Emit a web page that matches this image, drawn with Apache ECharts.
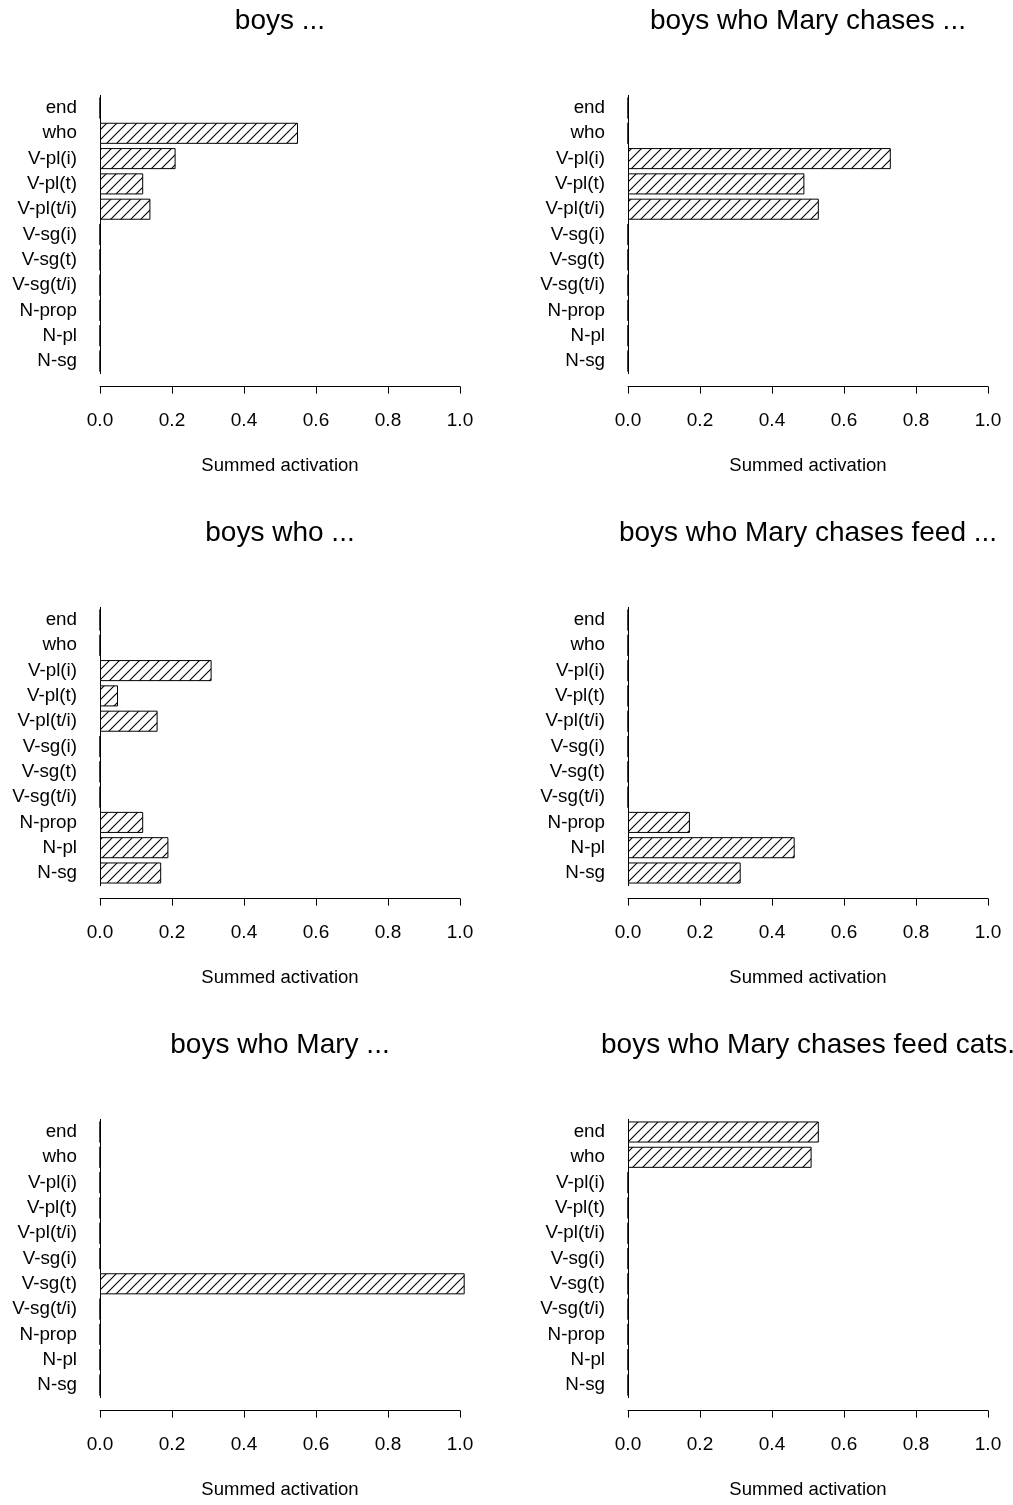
<!DOCTYPE html>
<html>
<head>
<meta charset="utf-8">
<script src="https://cdn.jsdelivr.net/npm/echarts@6/dist/echarts.min.js"></script>
<style>
html,body{margin:0;padding:0;background:#fff;}
#chart{width:1013px;height:1505px;}
</style>
</head>
<body>
<div id="chart"></div>
<script>
// Categories, bottom to top
var categories = ['N-sg','N-pl','N-prop','V-sg(t/i)','V-sg(t)','V-sg(i)','V-pl(t/i)','V-pl(t)','V-pl(i)','who','end'];
var xTicks = [0.0, 0.2, 0.4, 0.6, 0.8, 1.0];

var titleBoys = 'boys ...';
var titleBoysWho = 'boys who ...';
var titleBoysWhoMary = 'boys who Mary ...';
var titleChases = 'boys who Mary chases ...';
var titleFeed = 'boys who Mary chases feed ...';
var titleCats = 'boys who Mary chases feed cats.';

var valsBoys         = [0, 0, 0, 0, 0, 0, 0.14, 0.12, 0.21, 0.55, 0];
var valsBoysWho      = [0.17, 0.19, 0.12, 0, 0, 0, 0.16, 0.05, 0.31, 0, 0];
var valsBoysWhoMary  = [0, 0, 0, 0, 1.013, 0, 0, 0, 0, 0, 0];
var valsChases       = [0, 0, 0, 0, 0, 0, 0.53, 0.49, 0.73, 0, 0];
var valsFeed         = [0.313, 0.463, 0.172, 0, 0, 0, 0, 0, 0, 0, 0];
var valsCats         = [0, 0, 0, 0, 0, 0, 0, 0, 0, 0.51, 0.53];

var xAxisName = 'Summed activation';

// panels: [title, values, col, row]
var panels = [
  [titleBoys, valsBoys, 0, 0],
  [titleChases, valsChases, 1, 0],
  [titleBoysWho, valsBoysWho, 0, 1],
  [titleFeed, valsFeed, 1, 1],
  [titleBoysWhoMary, valsBoysWhoMary, 0, 2],
  [titleCats, valsCats, 1, 2]
];

// hatch pattern
var hs = 10;
var cv = document.createElement('canvas');
cv.width = hs; cv.height = hs;
var ctx = cv.getContext('2d');
ctx.fillStyle = '#fff';
ctx.fillRect(0,0,hs,hs);
ctx.strokeStyle = '#000';
ctx.lineWidth = 1.1;
ctx.beginPath();
ctx.moveTo(0, hs); ctx.lineTo(hs, 0);
ctx.moveTo(-2, 2); ctx.lineTo(2, -2);
ctx.moveTo(hs-2, hs+2); ctx.lineTo(hs+2, hs-2);
ctx.stroke();

var FONT = 'Liberation Sans, Arial, Helvetica, sans-serif';
var colLeft = [100, 628];
var rowTop = [95.35, 607.35, 1119.35];
var gridW = 360, gridH = 278.3;

var grids = [], xAxes = [], yAxes = [], series = [], titles = [];
panels.forEach(function(p, i){
  var L = colLeft[p[2]], T = rowTop[p[3]];
  grids.push({left: L, top: T, width: gridW, height: gridH, containLabel: false});
  titles.push({
    text: p[0], left: L + gridW/2, top: T - 88, textAlign: 'center', padding: 0,
    textStyle: {fontFamily: FONT, fontSize: 28, fontWeight: 'normal', color: '#000'}
  });
  xAxes.push({
    gridIndex: i, type: 'value', min: 0, max: 1, interval: 0.2, offset: 13,
    name: xAxisName, nameLocation: 'middle', nameGap: 70,
    nameTextStyle: {fontFamily: FONT, fontSize: 18.5, color: '#000'},
    axisLine: {show: true, lineStyle: {color: '#000', width: 1}},
    axisTick: {show: true, length: 7, lineStyle: {color: '#000', width: 1}},
    axisLabel: {fontFamily: FONT, fontSize: 19, color: '#000', margin: 25,
      formatter: function(v){ return v.toFixed(1); }},
    splitLine: {show: false}
  });
  yAxes.push({
    gridIndex: i, type: 'category', data: categories,
    axisLine: {show: true, lineStyle: {color: '#000', width: 1}},
    axisTick: {show: false},
    axisLabel: {fontFamily: FONT, fontSize: 18.8, color: '#000', margin: 23},
    splitLine: {show: false}
  });
  series.push({
    type: 'bar', xAxisIndex: i, yAxisIndex: i, data: p[1],
    barWidth: '83.3%', clip: false, silent: true, animation: false,
    itemStyle: {color: {image: cv, repeat: 'repeat'}, borderColor: '#000', borderWidth: 1}
  });
});

var chart = echarts.init(document.getElementById('chart'), null, {renderer: 'canvas'});
chart.setOption({
  backgroundColor: '#fff',
  animation: false,
  title: titles,
  grid: grids,
  xAxis: xAxes,
  yAxis: yAxes,
  series: series
});
</script>
</body>
</html>
